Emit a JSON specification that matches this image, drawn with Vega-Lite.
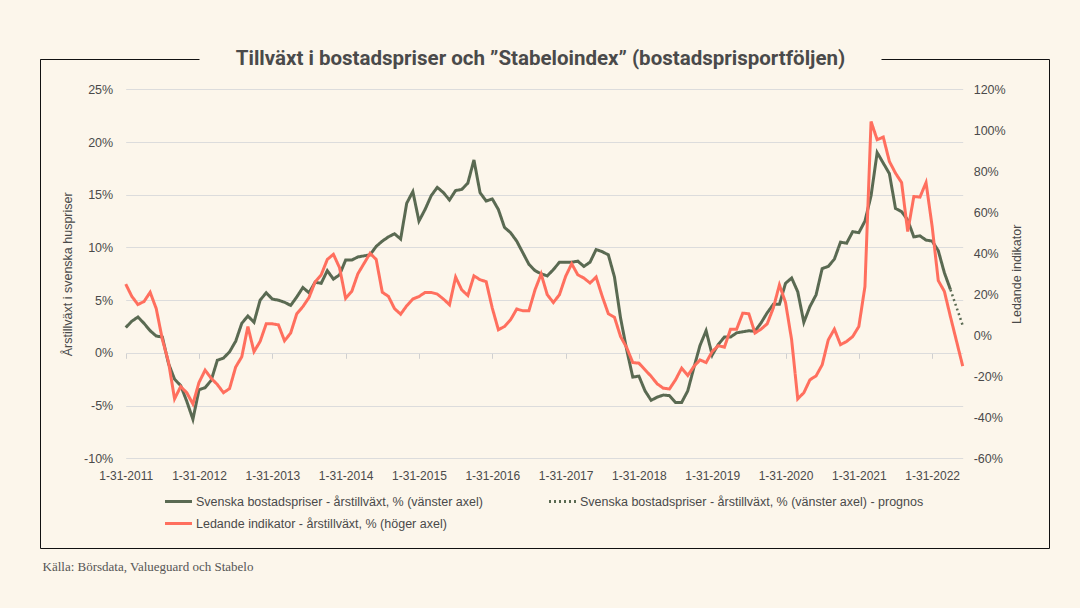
{
  "$schema": "https://vega.github.io/schema/vega-lite/v6.json",
  "width": 1009,
  "height": 489,
  "autosize": {"type": "none"},
  "padding": {"left": 40, "top": 59, "right": 31, "bottom": 60},
  "background": "#FCF6EB",
  "title": {
    "text": "Tillväxt i bostadspriser och ”Stabeloindex” (bostadsprisportföljen)",
    "anchor": "middle",
    "frame": "group",
    "orient": "top",
    "font": "Roboto",
    "fontSize": 20.5,
    "fontWeight": 700,
    "color": "#4A4A4A",
    "baseline": "alphabetic",
    "offset": -26,
    "dx": -4
  },
  "data": {
    "values": [
      {"m":0,"s":"sol","v":2.4},{"m":1,"s":"sol","v":3.0},{"m":2,"s":"sol","v":3.4},{"m":3,"s":"sol","v":2.8},{"m":4,"s":"sol","v":2.1},{"m":5,"s":"sol","v":1.6},{"m":6,"s":"sol","v":1.5},{"m":7,"s":"sol","v":-1.0},{"m":8,"s":"sol","v":-2.5},{"m":9,"s":"sol","v":-3.1},
      {"m":10,"s":"sol","v":-4.6},{"m":11,"s":"sol","v":-6.3},{"m":12,"s":"sol","v":-3.5},{"m":13,"s":"sol","v":-3.3},{"m":14,"s":"sol","v":-2.6},{"m":15,"s":"sol","v":-0.7},{"m":16,"s":"sol","v":-0.5},{"m":17,"s":"sol","v":0.1},{"m":18,"s":"sol","v":1.1},{"m":19,"s":"sol","v":2.8},
      {"m":20,"s":"sol","v":3.5},{"m":21,"s":"sol","v":2.9},{"m":22,"s":"sol","v":5.0},{"m":23,"s":"sol","v":5.7},{"m":24,"s":"sol","v":5.1},{"m":25,"s":"sol","v":5.0},{"m":26,"s":"sol","v":4.8},{"m":27,"s":"sol","v":4.5},{"m":28,"s":"sol","v":5.3},{"m":29,"s":"sol","v":6.2},
      {"m":30,"s":"sol","v":5.7},{"m":31,"s":"sol","v":6.7},{"m":32,"s":"sol","v":6.6},{"m":33,"s":"sol","v":7.8},{"m":34,"s":"sol","v":7.0},{"m":35,"s":"sol","v":7.4},{"m":36,"s":"sol","v":8.8},{"m":37,"s":"sol","v":8.8},{"m":38,"s":"sol","v":9.1},{"m":39,"s":"sol","v":9.2},
      {"m":40,"s":"sol","v":9.3},{"m":41,"s":"sol","v":10.1},{"m":42,"s":"sol","v":10.6},{"m":43,"s":"sol","v":11.0},{"m":44,"s":"sol","v":11.3},{"m":45,"s":"sol","v":10.8},{"m":46,"s":"sol","v":14.2},{"m":47,"s":"sol","v":15.3},{"m":48,"s":"sol","v":12.5},{"m":49,"s":"sol","v":13.6},
      {"m":50,"s":"sol","v":14.9},{"m":51,"s":"sol","v":15.7},{"m":52,"s":"sol","v":15.2},{"m":53,"s":"sol","v":14.5},{"m":54,"s":"sol","v":15.4},{"m":55,"s":"sol","v":15.5},{"m":56,"s":"sol","v":16.1},{"m":57,"s":"sol","v":18.3},{"m":58,"s":"sol","v":15.2},{"m":59,"s":"sol","v":14.4},
      {"m":60,"s":"sol","v":14.6},{"m":61,"s":"sol","v":13.6},{"m":62,"s":"sol","v":11.9},{"m":63,"s":"sol","v":11.4},{"m":64,"s":"sol","v":10.6},{"m":65,"s":"sol","v":9.5},{"m":66,"s":"sol","v":8.4},{"m":67,"s":"sol","v":7.8},{"m":68,"s":"sol","v":7.5},{"m":69,"s":"sol","v":7.3},
      {"m":70,"s":"sol","v":7.9},{"m":71,"s":"sol","v":8.6},{"m":72,"s":"sol","v":8.6},{"m":73,"s":"sol","v":8.6},{"m":74,"s":"sol","v":8.7},{"m":75,"s":"sol","v":8.2},{"m":76,"s":"sol","v":8.6},{"m":77,"s":"sol","v":9.8},{"m":78,"s":"sol","v":9.6},{"m":79,"s":"sol","v":9.3},
      {"m":80,"s":"sol","v":7.2},{"m":81,"s":"sol","v":3.3},{"m":82,"s":"sol","v":0.3},{"m":83,"s":"sol","v":-2.3},{"m":84,"s":"sol","v":-2.2},{"m":85,"s":"sol","v":-3.6},{"m":86,"s":"sol","v":-4.5},{"m":87,"s":"sol","v":-4.2},{"m":88,"s":"sol","v":-4.0},{"m":89,"s":"sol","v":-4.05},
      {"m":90,"s":"sol","v":-4.7},{"m":91,"s":"sol","v":-4.7},{"m":92,"s":"sol","v":-3.6},{"m":93,"s":"sol","v":-1.4},{"m":94,"s":"sol","v":0.7},{"m":95,"s":"sol","v":2.1},{"m":96,"s":"sol","v":-0.2},{"m":97,"s":"sol","v":0.8},{"m":98,"s":"sol","v":1.5},{"m":99,"s":"sol","v":1.5},
      {"m":100,"s":"sol","v":1.9},{"m":101,"s":"sol","v":2.0},{"m":102,"s":"sol","v":2.1},{"m":103,"s":"sol","v":2.05},{"m":104,"s":"sol","v":2.85},{"m":105,"s":"sol","v":3.8},{"m":106,"s":"sol","v":4.6},{"m":107,"s":"sol","v":4.6},{"m":108,"s":"sol","v":6.6},{"m":109,"s":"sol","v":7.1},
      {"m":110,"s":"sol","v":5.8},{"m":111,"s":"sol","v":2.9},{"m":112,"s":"sol","v":4.4},{"m":113,"s":"sol","v":5.5},{"m":114,"s":"sol","v":8.0},{"m":115,"s":"sol","v":8.2},{"m":116,"s":"sol","v":8.9},{"m":117,"s":"sol","v":10.5},{"m":118,"s":"sol","v":10.4},{"m":119,"s":"sol","v":11.5},
      {"m":120,"s":"sol","v":11.4},{"m":121,"s":"sol","v":12.5},{"m":122,"s":"sol","v":14.9},{"m":123,"s":"sol","v":19.0},{"m":124,"s":"sol","v":18.0},{"m":125,"s":"sol","v":17.0},{"m":126,"s":"sol","v":13.7},{"m":127,"s":"sol","v":13.4},{"m":128,"s":"sol","v":12.6},{"m":129,"s":"sol","v":11.0},
      {"m":130,"s":"sol","v":11.1},{"m":131,"s":"sol","v":10.7},{"m":132,"s":"sol","v":10.6},{"m":133,"s":"sol","v":9.7},{"m":134,"s":"sol","v":7.6},{"m":135,"s":"sol","v":6.0},
      {"m":135,"s":"prog","v":6.0},{"m":136,"s":"prog","v":4.3},{"m":137,"s":"prog","v":2.6},
      {"m":0,"s":"led","v":25},{"m":1,"s":"led","v":19},{"m":2,"s":"led","v":15},{"m":3,"s":"led","v":16.5},{"m":4,"s":"led","v":21},{"m":5,"s":"led","v":13},{"m":6,"s":"led","v":-2},{"m":7,"s":"led","v":-13},{"m":8,"s":"led","v":-31},{"m":9,"s":"led","v":-25},
      {"m":10,"s":"led","v":-28},{"m":11,"s":"led","v":-33.5},{"m":12,"s":"led","v":-23},{"m":13,"s":"led","v":-17},{"m":14,"s":"led","v":-21},{"m":15,"s":"led","v":-24},{"m":16,"s":"led","v":-28},{"m":17,"s":"led","v":-26},{"m":18,"s":"led","v":-15.5},{"m":19,"s":"led","v":-10.5},
      {"m":20,"s":"led","v":4.3},{"m":21,"s":"led","v":-8},{"m":22,"s":"led","v":-3},{"m":23,"s":"led","v":5.6},{"m":24,"s":"led","v":5.6},{"m":25,"s":"led","v":5.1},{"m":26,"s":"led","v":-2.7},{"m":27,"s":"led","v":1.1},{"m":28,"s":"led","v":10.5},{"m":29,"s":"led","v":14},
      {"m":30,"s":"led","v":18.4},{"m":31,"s":"led","v":26},{"m":32,"s":"led","v":29.5},{"m":33,"s":"led","v":37},{"m":34,"s":"led","v":39.5},{"m":35,"s":"led","v":33},{"m":36,"s":"led","v":18},{"m":37,"s":"led","v":21.4},{"m":38,"s":"led","v":30},{"m":39,"s":"led","v":35},
      {"m":40,"s":"led","v":40},{"m":41,"s":"led","v":37},{"m":42,"s":"led","v":21},{"m":43,"s":"led","v":19},{"m":44,"s":"led","v":13},{"m":45,"s":"led","v":10.3},{"m":46,"s":"led","v":14.4},{"m":47,"s":"led","v":17.7},{"m":48,"s":"led","v":18.9},{"m":49,"s":"led","v":20.9},
      {"m":50,"s":"led","v":20.9},{"m":51,"s":"led","v":20.1},{"m":52,"s":"led","v":17.7},{"m":53,"s":"led","v":14.9},{"m":54,"s":"led","v":28.4},{"m":55,"s":"led","v":22.2},{"m":56,"s":"led","v":19.4},{"m":57,"s":"led","v":29},{"m":58,"s":"led","v":27.1},{"m":59,"s":"led","v":26.2},
      {"m":60,"s":"led","v":13.3},{"m":61,"s":"led","v":2.7},{"m":62,"s":"led","v":4.3},{"m":63,"s":"led","v":7.6},{"m":64,"s":"led","v":12.8},{"m":65,"s":"led","v":12},{"m":66,"s":"led","v":12},{"m":67,"s":"led","v":22.2},{"m":68,"s":"led","v":29.9},{"m":69,"s":"led","v":19.8},
      {"m":70,"s":"led","v":16},{"m":71,"s":"led","v":19.8},{"m":72,"s":"led","v":28.7},{"m":73,"s":"led","v":34.9},{"m":74,"s":"led","v":29.5},{"m":75,"s":"led","v":27.9},{"m":76,"s":"led","v":25.5},{"m":77,"s":"led","v":28.4},{"m":78,"s":"led","v":19},{"m":79,"s":"led","v":10.5},
      {"m":80,"s":"led","v":8.8},{"m":81,"s":"led","v":-0.6},{"m":82,"s":"led","v":-6},{"m":83,"s":"led","v":-13.3},{"m":84,"s":"led","v":-13.6},{"m":85,"s":"led","v":-16.8},{"m":86,"s":"led","v":-20},{"m":87,"s":"led","v":-23.7},{"m":88,"s":"led","v":-25.8},{"m":89,"s":"led","v":-26.2},
      {"m":90,"s":"led","v":-21.7},{"m":91,"s":"led","v":-16},{"m":92,"s":"led","v":-19.6},{"m":93,"s":"led","v":-15.2},{"m":94,"s":"led","v":-12},{"m":95,"s":"led","v":-13.3},{"m":96,"s":"led","v":-7.9},{"m":97,"s":"led","v":-5.1},{"m":98,"s":"led","v":-5.8},{"m":99,"s":"led","v":3},
      {"m":100,"s":"led","v":3},{"m":101,"s":"led","v":10.8},{"m":102,"s":"led","v":10.5},{"m":103,"s":"led","v":1.1},{"m":104,"s":"led","v":3},{"m":105,"s":"led","v":5.6},{"m":106,"s":"led","v":13.3},{"m":107,"s":"led","v":24.6},{"m":108,"s":"led","v":16},{"m":109,"s":"led","v":-2.2},
      {"m":110,"s":"led","v":-31},{"m":111,"s":"led","v":-28},{"m":112,"s":"led","v":-21.7},{"m":113,"s":"led","v":-19.8},{"m":114,"s":"led","v":-14.4},{"m":115,"s":"led","v":-2.2},{"m":116,"s":"led","v":3},{"m":117,"s":"led","v":-4.6},{"m":118,"s":"led","v":-3},{"m":119,"s":"led","v":-0.6},
      {"m":120,"s":"led","v":4.3},{"m":121,"s":"led","v":23.8},{"m":122,"s":"led","v":104.3},{"m":123,"s":"led","v":95.4},{"m":124,"s":"led","v":96.7},{"m":125,"s":"led","v":84.8},{"m":126,"s":"led","v":79.1},{"m":127,"s":"led","v":74.5},{"m":128,"s":"led","v":50.6},{"m":129,"s":"led","v":67.7},
      {"m":130,"s":"led","v":67.4},{"m":131,"s":"led","v":74.5},{"m":132,"s":"led","v":53.1},{"m":133,"s":"led","v":26.7},{"m":134,"s":"led","v":21.4},{"m":135,"s":"led","v":9},{"m":136,"s":"led","v":-3},{"m":137,"s":"led","v":-15}
    ]
  },
  "layer": [
    {
      "transform": [{"filter": "datum.s === 'sol'"}],
      "mark": {"type": "line", "strokeWidth": 3},
      "encoding": {
        "x": {
          "field": "m", "type": "quantitative",
          "scale": {"domain": [0, 137], "range": [85.7, 922.7], "nice": false, "zero": false},
          "axis": {
            "orient": "bottom", "offset": -80,
            "values": [0, 12, 24, 36, 48, 60, 72, 84, 96, 108, 120, 132],
            "labelExpr": "'1-31-' + (2011 + datum.value / 12)",
            "labelOverlap": false, "labelFlush": false, "labelBound": false,
            "ticks": false, "domain": false, "grid": false,
            "labelPadding": 2, "labelFontSize": 12, "labelColor": "#4A4A4A", "labelFont": "Liberation Sans",
            "title": "Källa: Börsdata, Valueguard och Stabelo",
            "titleFont": "Liberation Serif", "titleFontSize": 13, "titleFontWeight": "normal", "titleColor": "#555555",
            "titleX": 2, "titleY": 102, "titleAlign": "left", "titleAnchor": "start", "titleBaseline": "alphabetic"
          }
        },
        "y": {
          "field": "v", "type": "quantitative",
          "scale": {"domain": [-10, 25], "range": [399.3, 30.3], "nice": false, "zero": false},
          "axis": {
            "orient": "left", "offset": -85.7,
            "values": [-10, -5, 0, 5, 10, 15, 20, 25],
            "labelExpr": "datum.value + '%'",
            "grid": true, "gridColor": "#DCDCDC", "gridWidth": 1,
            "ticks": false, "domain": false,
            "labelPadding": 13, "labelFontSize": 12.5, "labelColor": "#4A4A4A", "labelFont": "Liberation Sans",
            "title": "Årstillväxt i svenska huspriser",
            "titleFont": "Liberation Sans", "titleFontSize": 12.5, "titleFontWeight": "normal", "titleColor": "#4A4A4A",
            "titlePadding": 9
          }
        },
        "color": {
          "field": "s", "type": "nominal",
          "scale": {"domain": ["sol", "prog", "led"], "range": ["#5A6A52", "#5A6A52", "#FF6F5E"]},
          "legend": {
            "orient": "none", "legendX": 130, "legendY": 434, "direction": "horizontal",
            "columns": 2, "columnPadding": 60, "rowPadding": 7,
            "values": ["sol", "prog", "led"],
            "symbolType": "M-2,0H2", "symbolSize": 182, "symbolStrokeWidth": 3,
            "labelFont": "Liberation Sans", "labelFontSize": 12.5, "labelColor": "#4A4A4A", "labelOffset": 9, "labelLimit": 600,
            "title": null,
            "labelExpr": "datum.label == 'sol' ? 'Svenska bostadspriser - årstillväxt, % (vänster axel)' : datum.label == 'prog' ? 'Svenska bostadspriser - årstillväxt, % (vänster axel) - prognos' : 'Ledande indikator - årstillväxt, % (höger axel)'"
          }
        },
        "strokeDash": {
          "field": "s", "type": "nominal",
          "scale": {"domain": ["sol", "prog", "led"], "range": [[1, 0], [2, 3], [1, 0]]},
          "legend": {
            "orient": "none", "legendX": 130, "legendY": 434, "direction": "horizontal",
            "columns": 2, "columnPadding": 60, "rowPadding": 7,
            "values": ["sol", "prog", "led"],
            "symbolType": "M-2,0H2", "symbolSize": 182, "symbolStrokeWidth": 3,
            "labelFont": "Liberation Sans", "labelFontSize": 12.5, "labelColor": "#4A4A4A", "labelOffset": 9, "labelLimit": 600,
            "title": null,
            "labelExpr": "datum.label == 'sol' ? 'Svenska bostadspriser - årstillväxt, % (vänster axel)' : datum.label == 'prog' ? 'Svenska bostadspriser - årstillväxt, % (vänster axel) - prognos' : 'Ledande indikator - årstillväxt, % (höger axel)'"
          }
        }
      }
    },
    {
      "transform": [{"filter": "datum.s === 'prog'"}],
      "mark": {"type": "line", "strokeWidth": 2.5},
      "encoding": {
        "x": {"field": "m", "type": "quantitative", "scale": {"domain": [0, 137], "range": [85.7, 922.7], "nice": false, "zero": false}, "axis": null},
        "y": {"field": "v", "type": "quantitative", "scale": {"domain": [-10, 25], "range": [399.3, 30.3], "nice": false, "zero": false}, "axis": null},
        "color": {"field": "s", "type": "nominal", "scale": {"domain": ["sol", "prog", "led"], "range": ["#5A6A52", "#5A6A52", "#FF6F5E"]}},
        "strokeDash": {"field": "s", "type": "nominal", "scale": {"domain": ["sol", "prog", "led"], "range": [[1, 0], [2, 3], [1, 0]]}}
      }
    },
    {
      "transform": [{"filter": "datum.s === 'led'"}],
      "mark": {"type": "line", "strokeWidth": 3},
      "encoding": {
        "x": {
          "field": "m", "type": "quantitative",
          "scale": {"domain": [0, 137], "range": [85.7, 922.7], "nice": false, "zero": false},
          "axis": {
            "orient": "bottom", "offset": -194.7,
            "values": [0, 12, 24, 36, 48, 60, 72, 84, 96, 108, 120, 132],
            "labels": false, "ticks": true, "tickSize": 5, "tickColor": "#D0D0D0", "tickWidth": 1,
            "domain": false, "grid": false, "title": null
          }
        },
        "y": {
          "field": "v", "type": "quantitative",
          "scale": {"domain": [-60, 120], "range": [399.3, 30.3], "nice": false, "zero": false},
          "axis": {
            "orient": "right", "offset": -86.3,
            "values": [-60, -40, -20, 0, 20, 40, 60, 80, 100, 120],
            "labelExpr": "datum.value + '%'",
            "grid": false, "ticks": false, "domain": false,
            "labelPadding": 10.5, "labelFontSize": 12.5, "labelColor": "#4A4A4A", "labelFont": "Liberation Sans",
            "title": "Ledande indikator",
            "titleAngle": 270, "titleBaseline": "top",
            "titleFont": "Liberation Sans", "titleFontSize": 12.5, "titleFontWeight": "normal", "titleColor": "#4A4A4A",
            "titlePadding": 5
          }
        },
        "color": {"field": "s", "type": "nominal", "scale": {"domain": ["sol", "prog", "led"], "range": ["#5A6A52", "#5A6A52", "#FF6F5E"]}},
        "strokeDash": {"field": "s", "type": "nominal", "scale": {"domain": ["sol", "prog", "led"], "range": [[1, 0], [2, 3], [1, 0]]}}
      }
    }
  ],
  "resolve": {"scale": {"y": "independent"}, "axis": {"x": "independent"}},
  "config": {
    "view": {"stroke": "#111111", "strokeWidth": 1, "strokeDash": [159, 682, 4000, 0]},
    "font": "Liberation Sans"
  }
}
